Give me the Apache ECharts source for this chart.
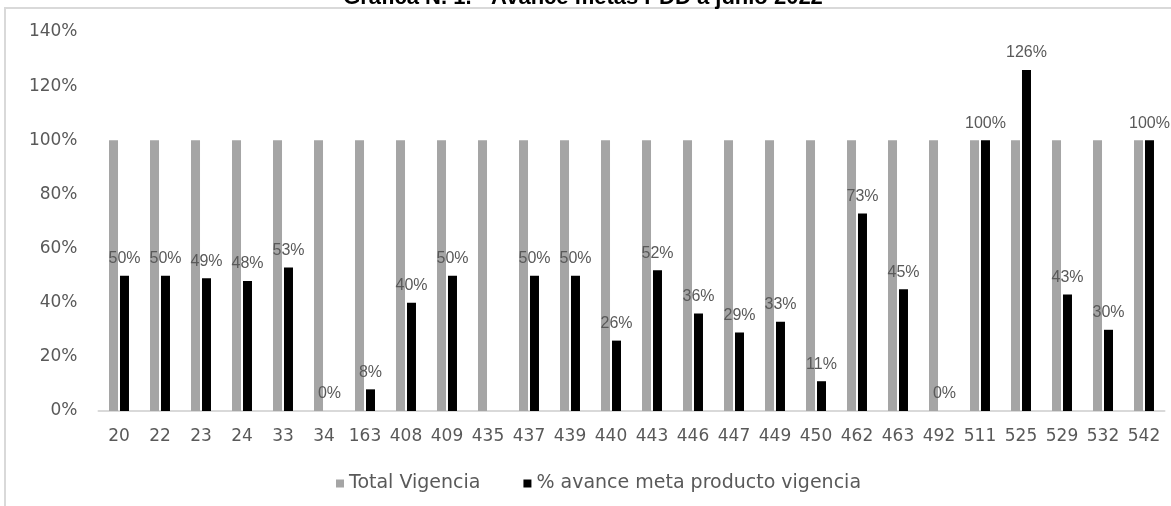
<!DOCTYPE html>
<html>
<head>
<meta charset="utf-8">
<script src="https://cdn.jsdelivr.net/npm/echarts@6/dist/echarts.min.js"></script>
<style>
html,body{margin:0;padding:0;background:#fff;}
#chart{width:1171px;height:506px;}
</style>
</head>
<body>
<div id="chart"></div>
<script>
var categories = ['20','22','23','24','33','34','163','408','409','435','437','439','440','443','446','447','449','450','462','463','492','511','525','529','532','542'];
var totalVigencia = [100,100,100,100,100,100,100,100,100,100,100,100,100,100,100,100,100,100,100,100,100,100,100,100,100,100];
var avanceMeta = [50,50,49,48,53,0,8,40,50,null,50,50,26,52,36,29,33,11,73,45,0,100,126,43,30,100];
var yTicks = [0,20,40,60,80,100,120,140];

var chart = echarts.init(document.getElementById('chart'));
var axisFont = 'DejaVu Sans';
chart.setOption({
  animation: false,
  backgroundColor: '#ffffff',
  title: {
    text: 'Gráfica N. 1. - Avance metas PDD a junio 2022',
    left: 578, textAlign: 'center', top: -18,
    textStyle: {fontFamily: 'Liberation Sans', fontWeight: 'bold', fontSize: 22, color: '#000'}
  },
  graphic: [{
    type: 'rect', shape: {x: 5, y: 8, width: 1200, height: 600},
    style: {fill: '#ffffff', stroke: '#d9d9d9', lineWidth: 2}, silent: true, z: -10
  }],
  grid: {left: 98.5, right: 6.5, top: 32, bottom: 95, containLabel: false},
  legend: {
    bottom: 8, left: 331,
    itemWidth: 8, itemHeight: 8, itemGap: 43,
    icon: 'rect',
    textStyle: {fontFamily: axisFont, fontSize: 19, color: '#595959'},
    data: ['Total Vigencia', '% avance meta producto vigencia']
  },
  xAxis: {
    type: 'category', data: categories,
    axisLine: {lineStyle: {color: '#d9d9d9', width: 2}},
    axisTick: {show: false},
    axisLabel: {fontFamily: axisFont, fontSize: 17, color: '#595959', margin: 17, interval: 0}
  },
  yAxis: {
    type: 'value', min: 0, max: 140, interval: 20,
    axisLine: {show: false}, axisTick: {show: false}, splitLine: {show: false},
    axisLabel: {fontFamily: axisFont, fontSize: 17, color: '#595959', margin: 21,
      formatter: function (v) { return v + '%'; }}
  },
  series: [{
    name: 'Total Vigencia', type: 'bar', data: totalVigencia,
    barWidth: 9, barGap: '22%',
    itemStyle: {color: '#a5a5a5'}
  }, {
    name: '% avance meta producto vigencia', type: 'bar', data: avanceMeta,
    barWidth: 9,
    itemStyle: {color: '#000000'},
    label: {show: true, position: 'top', distance: 9,
      fontFamily: 'Liberation Sans', fontSize: 16, color: '#595959',
      formatter: function (p) { return p.value + '%'; }}
  }]
});
</script>
</body>
</html>
